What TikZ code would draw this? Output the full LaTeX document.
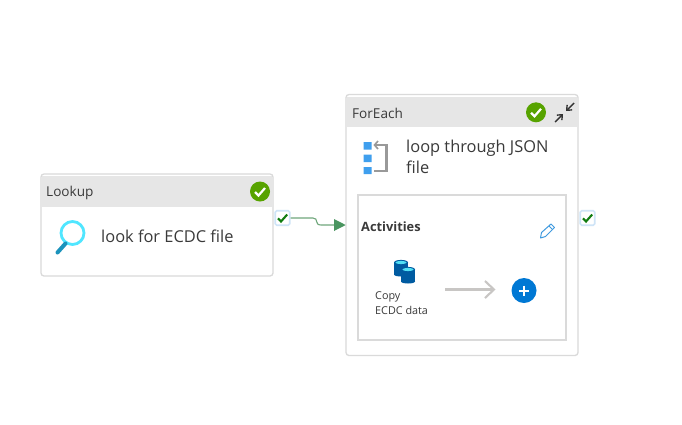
\documentclass[tikz,border=0pt]{standalone}
\usepackage{fontspec}
\setmainfont{Open Sans}
\usetikzlibrary{arrows.meta,calc}
\definecolor{hdr}{HTML}{E6E6E6}
\definecolor{edge}{HTML}{DADADA}
\definecolor{okgreen}{HTML}{57A300}
\definecolor{tick}{HTML}{107C10}
\definecolor{linkg}{HTML}{6FA67B}
\definecolor{tipg}{HTML}{4A9560}
\definecolor{txt}{HTML}{3A3A3A}
\definecolor{azure}{HTML}{0078D4}
\definecolor{sq}{HTML}{3F9FEE}
\definecolor{lens}{HTML}{50E6FF}
\definecolor{handle}{HTML}{1B93BC}
\definecolor{dbblue}{HTML}{005BA1}
\definecolor{dbtop}{HTML}{50E0F5}
\definecolor{chk}{HTML}{CFE4F7}
\definecolor{flow}{HTML}{C8C6C4}
\tikzset{
  x=1pt,y=-1pt,
  cardbox/.style={draw=edge,line width=1.3pt,rounded corners=3pt,fill=white,inner sep=0,minimum width=232,minimum height=#1},
  headerbar/.style={fill=hdr,draw=none},
  title/.style={text=txt,font=\fontsize{13.6}{16}\selectfont,anchor=base west,inner sep=0},
  bodytext/.style={text=txt,font=\fontsize{16.4}{21}\selectfont,anchor=base west,inner sep=0},
  status/.style={circle,fill=okgreen,minimum size=20,inner sep=0},
  whitetick/.style={draw=white,line width=2.2pt},
  checkbox/.style={draw=chk,line width=1.6pt,fill=white,rounded corners=1.5pt,minimum size=14.5,inner sep=0},
  gtick/.style={draw=tick,line width=2.1pt},
  small/.style={text=txt,font=\fontsize{10.8}{15}\selectfont,anchor=base west,inner sep=0},
}
\newcommand{\okmark}[1]{%
  \draw[whitetick] ($(#1)+(-5,0.5)$) -- ($(#1)+(-1.5,4)$) -- ($(#1)+(5,-3.5)$);}
\newcommand{\gmark}[1]{%
  \draw[gtick] ($(#1)+(-4.5,0.3)$) -- ($(#1)+(-1.5,3.5)$) -- ($(#1)+(4.7,-3.5)$);}
\newcommand{\dbcyl}[3]{% centre x, top y, half width
  \fill[dbblue] (#1-#3,#2) rectangle (#1+#3,#2+12);
  \fill[dbblue] (#1,#2+12) ellipse ({#3} and 2);
  \fill[dbblue] (#1,#2) ellipse ({#3} and 2.6);
  \fill[dbtop] (#1,#2) ellipse ({#3-1.4} and 1.6);}
\begin{document}
\begin{tikzpicture}
\useasboundingbox (0,0) rectangle (682,424);
\fill[white] (0,0) rectangle (682,424);

% Lookup card
\node[cardbox=102] (lookup) at (157,225) {};
\fill[headerbar] (41.7,176) rectangle (272.3,207);
\node[title] (lookupT) at (46,196.5) {Lookup};
\node[status] (lookupS) at (260,191.5) {};
\okmark{lookupS}
\draw[color=lens,line width=2.8pt] (72.5,233) circle (11.5);
\draw[color=handle,line width=4pt,line cap=round] (65.5,243.5) -- (57.5,252.5);
\node[bodytext] (lookupB) at (101,242.5) {look for ECDC file};
\node[checkbox] (outA) at (282.5,218) {};
\gmark{outA}

% ForEach card
\node[cardbox=261] (foreach) at (462,225) {};
\fill[headerbar] (346.7,97) rectangle (577.3,127);
\node[title] (foreachT) at (352,118) {ForEach};
\node[status] (foreachS) at (536,112.3) {};
\okmark{foreachS}
\draw[color=black!80,line width=1.4pt,-{Straight Barb[length=4pt,width=7pt]}] (574,103) -- (566,111);
\draw[color=black!80,line width=1.4pt,-{Straight Barb[length=4pt,width=7pt]}] (555,122) -- (563,114);
\fill[sq] (363.5,142) rectangle (371.5,149.5) (363.5,154.5) rectangle (371.5,162) (363.5,167) rectangle (371.5,174);
\draw[color=black!40,line width=2.4pt] (376,145) -- (386.5,145) -- (386.5,171) -- (373.5,171);
\draw[color=black!40,line width=1.6pt] (378,141) -- (374.5,145) -- (378,149);
\node[bodytext] (foreachB) at (406,152.5) {loop through JSON};
\node[bodytext] (foreachC) at (406,173) {file};
\node[checkbox] (outB) at (587.5,218) {};
\gmark{outB}

% Activities
\node[draw=edge,line width=1.3pt,fill=white,minimum width=208,minimum height=145,inner sep=0] (inner) at (462,267.5) {};
\node[anchor=base west,inner sep=0,text=txt,font=\fontsize{12.8}{15}\selectfont\bfseries] (act) at (361,231) {Activities};
% pencil
\draw[color=azure!75!white,line width=1pt,line join=round] (540.5,238) -- (541.5,232.5) -- (551,224) -- (554.5,227.5) -- (545.5,236.5) -- cycle;
\draw[color=azure!75!white,line width=.8pt] (549,226) -- (552.5,229.5);
% copy icon
\dbcyl{401}{262.5}{7}
\dbcyl{408}{269.5}{7}
\node[small] (copy) at (375,299) {Copy};
\node[small] (copyB) at (375,314) {ECDC data};
\node[circle,fill=azure,minimum size=25,inner sep=0] (plus) at (524,290.5) {};
\draw[white,line width=2pt] ($(plus)+(-5,0)$) -- ($(plus)+(5,0)$) ($(plus)+(0,-5)$) -- ($(plus)+(0,5)$);
\coordinate (flowA) at (445,289.5);
\coordinate (flowB) at (495.5,289.5);
\draw[color=flow,line width=2.1pt,-{Straight Barb[length=9pt,width=17pt]}] (flowA) -- (flowB);

% connector
\coordinate (entry) at (345.7,225);
\draw[color=linkg,line width=1.1pt] (outA.east) -- (313,218) .. controls (319,218) and (314,225) .. (321,225) -- (335,225);
\fill[tipg] (entry) -- (334,219) -- (334,231) -- cycle;
\end{tikzpicture}
\end{document}
